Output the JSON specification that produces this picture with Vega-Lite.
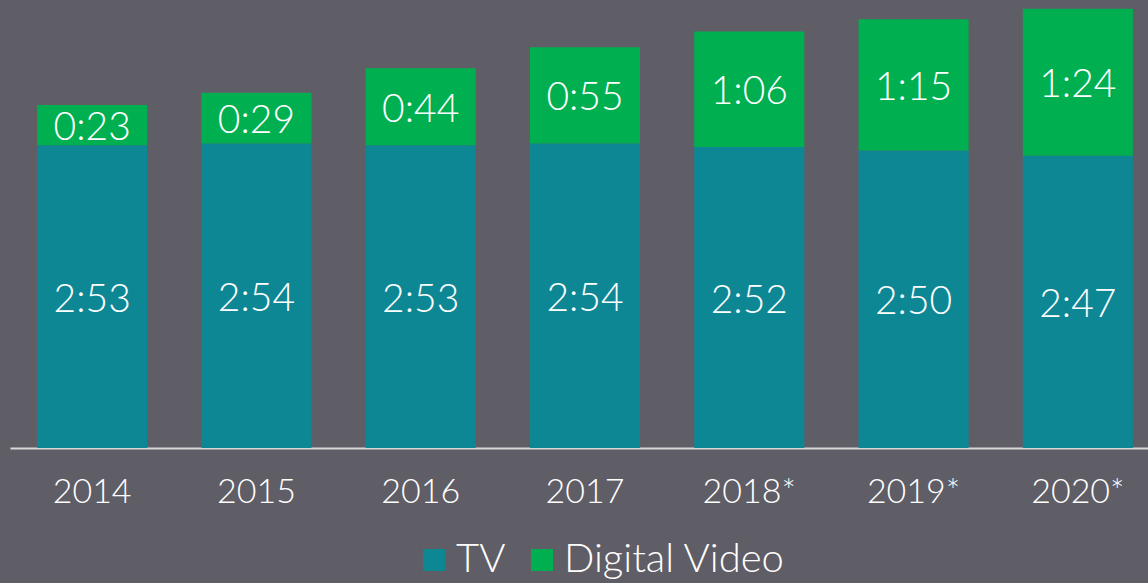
{
  "$schema": "https://vega.github.io/schema/vega-lite/v6.json",
  "autosize": "none",
  "width": 1138,
  "height": 448,
  "padding": {"left": 10, "top": 0, "right": 0, "bottom": 135},
  "background": "#5f5d66",
  "config": {"view": {"stroke": null}},
  "data": {
    "values": [
      {"year": "2014", "series": "TV", "minutes": 173, "label": "2:53"},
      {"year": "2014", "series": "Digital Video", "minutes": 23, "label": "0:23"},
      {"year": "2015", "series": "TV", "minutes": 174, "label": "2:54"},
      {"year": "2015", "series": "Digital Video", "minutes": 29, "label": "0:29"},
      {"year": "2016", "series": "TV", "minutes": 173, "label": "2:53"},
      {"year": "2016", "series": "Digital Video", "minutes": 44, "label": "0:44"},
      {"year": "2017", "series": "TV", "minutes": 174, "label": "2:54"},
      {"year": "2017", "series": "Digital Video", "minutes": 55, "label": "0:55"},
      {"year": "2018*", "series": "TV", "minutes": 172, "label": "2:52"},
      {"year": "2018*", "series": "Digital Video", "minutes": 66, "label": "1:06"},
      {"year": "2019*", "series": "TV", "minutes": 170, "label": "2:50"},
      {"year": "2019*", "series": "Digital Video", "minutes": 75, "label": "1:15"},
      {"year": "2020*", "series": "TV", "minutes": 167, "label": "2:47"},
      {"year": "2020*", "series": "Digital Video", "minutes": 84, "label": "1:24"}
    ]
  },
  "transform": [
    {"stack": "minutes", "groupby": ["year"], "as": ["y0", "y1"], "sort": [{"field": "series", "order": "descending"}]},
    {"calculate": "(datum.y0 + datum.y1) / 2", "as": "mid"}
  ],
  "encoding": {
    "x": {
      "field": "year",
      "type": "ordinal",
      "sort": null,
      "scale": {"range": [0, 1150], "paddingInner": 0.33, "paddingOuter": 0.165},
      "axis": {
        "title": null,
        "labelAngle": 0,
        "ticks": false,
        "domainColor": "#d9d9d9",
        "domainWidth": 2,
        "labelColor": "#ffffff",
        "labelFont": "Lato",
        "labelFontSize": 34,
        "labelFontWeight": 300,
        "labelPadding": 27
      }
    }
  },
  "layer": [
    {
      "mark": {"type": "bar"},
      "encoding": {
        "y": {"field": "y0", "type": "quantitative", "scale": {"domain": [0, 256], "nice": false}, "axis": null},
        "y2": {"field": "y1"},
        "color": {
          "field": "series",
          "type": "nominal",
          "scale": {"domain": ["TV", "Digital Video"], "range": ["#0e8795", "#00b050"]},
          "legend": {
            "title": null,
            "orient": "none",
            "direction": "horizontal",
            "legendX": 404,
            "legendY": 540,
            "padding": 0,
            "symbolType": "square",
            "symbolSize": 484,
            "symbolStrokeWidth": 0,
            "symbolOpacity": 1,
            "labelColor": "#ffffff",
            "labelFont": "Lato",
            "labelFontSize": 40,
            "labelFontWeight": 300,
            "labelOffset": 2,
            "labelLimit": 400,
            "columnPadding": 16
          }
        }
      }
    },
    {
      "mark": {"type": "text", "color": "#ffffff", "font": "Lato", "fontSize": 39, "fontWeight": 300, "baseline": "middle", "dy": 3},
      "encoding": {
        "y": {"field": "mid", "type": "quantitative"},
        "text": {"field": "label"}
      }
    }
  ]
}
